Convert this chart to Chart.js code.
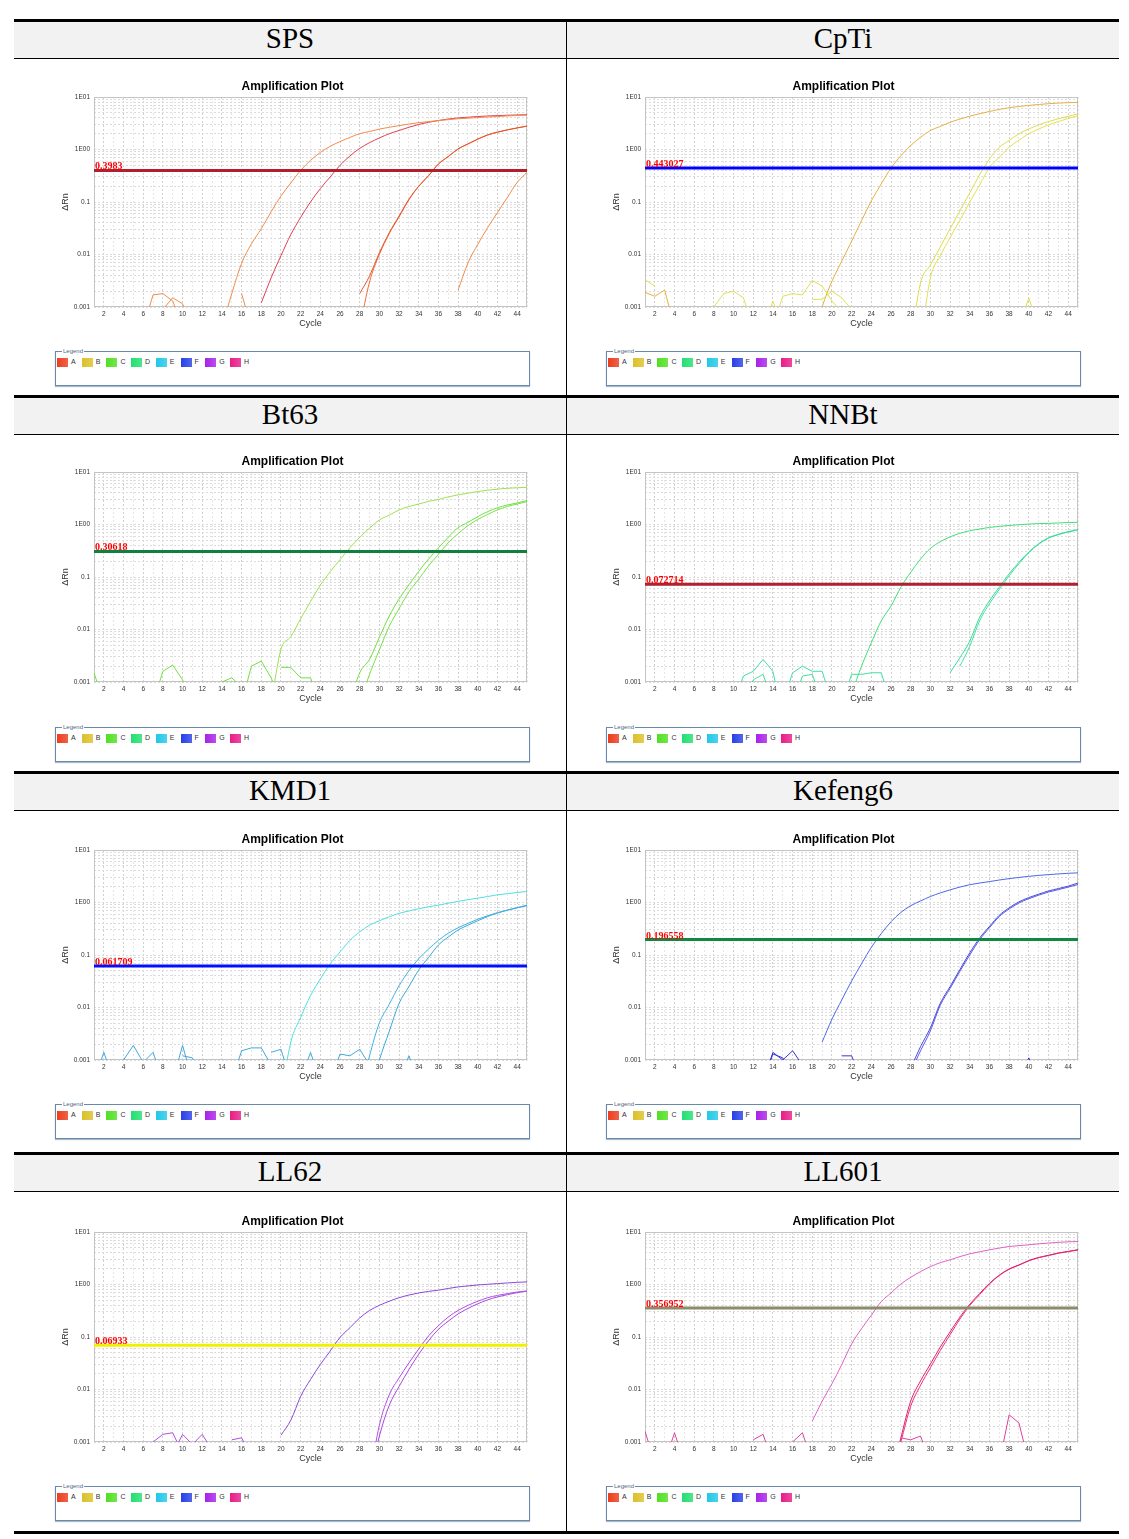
<!DOCTYPE html>
<html>
<head>
<meta charset="utf-8">
<script src="https://cdn.jsdelivr.net/npm/chart.js@4.4.1/dist/chart.umd.min.js"></script>
<style>
  body { margin: 0; background: #fff; width: 1129px; height: 1539px; position: relative; overflow: hidden; font-family: "Liberation Sans", Arial, sans-serif; }
  .thick { position: absolute; left: 14px; width: 1105px; height: 3px; background: #000; }
  .thin { position: absolute; left: 14px; width: 1105px; height: 1px; background: #000; }
  .head { position: absolute; left: 14px; width: 1105px; height: 36px; background: #f2f2f2; }
  .head span { position: absolute; top: 0; width: 552px; line-height: 36px; text-align: center; font: 29px "Liberation Serif", serif; color: #000; }
  .vline { position: absolute; left: 566px; top: 22px; width: 1px; height: 1509px; background: #000; }
  canvas { position: absolute; }
  .legend { position: absolute; width: 473px; height: 33px; border: 1px solid #6a88a8; box-shadow: 0 1px 1px #aabbcc; }
  .legend .cap { position: absolute; left: 6px; top: -4px; font-size: 6px; line-height: 7px; color: #50687f; background: #fff; padding: 0 1px; }
  .legend .sw { position: absolute; top: 6px; width: 11px; height: 9px; }
  .legend .lb { position: absolute; top: 5px; font-size: 7px; line-height: 10px; color: #333; }
</style>
</head>
<body>
<script>
// ---- data -------------------------------------------------------------
const cycles = [1,2,3,4,5,6,7,8,9,10,11,12,13,14,15,16,17,18,19,20,21,22,23,24,25,26,27,28,29,30,31,32,33,34,35,36,37,38,39,40,41,42,43,44,45];
const xTickLabels = [2,4,6,8,10,12,14,16,18,20,22,24,26,28,30,32,34,36,38,40,42,44];
const yGridValues = [0.001,0.002,0.003,0.004,0.005,0.006,0.007,0.008,0.009,
                     0.01,0.02,0.03,0.04,0.05,0.06,0.07,0.08,0.09,
                     0.1,0.2,0.3,0.4,0.5,0.6,0.7,0.8,0.9,
                     1,2,3,4,5,6,7,8,9,10];
const yTickValues = [0.001, 0.01, 0.1, 1, 10];
const yTickLabels = ['0.001', '0.01', '0.1', '1E00', '1E01'];

const panelNames = ['SPS', 'CpTi', 'Bt63', 'NNBt', 'KMD1', 'Kefeng6', 'LL62', 'LL601'];
const thresholds = [0.3983, 0.443027, 0.30618, 0.072714, 0.061709, 0.196558, 0.06933, 0.356952];
const thresholdLabels = ['0.3983', '0.443027', '0.30618', '0.072714', '0.061709', '0.196558', '0.06933', '0.356952'];
const legendKeys = ['A', 'B', 'C', 'D', 'E', 'F', 'G', 'H'];

// SPS (values from the first cycle given next to each array)
const spsA1 = [0.0004,0.0018,0.0068,0.016,0.031,0.065,0.13,0.23,0.40,0.62,0.88,1.15,1.42,1.70,2.0,2.2,2.45,2.65,2.85,3.05,3.25,3.4,3.55,3.7,3.85,3.95,4.05,4.15,4.25,4.35,4.45,4.5]; // from 14
const spsA2 = [0.0012,0.0036,0.0095,0.024,0.051,0.10,0.18,0.30,0.50,0.75,1.05,1.35,1.66,2.0,2.3,2.65,3.0,3.3,3.57,3.8,4.0,4.12,4.25,4.35,4.42,4.5,4.55,4.6]; // from 18
const spsA3 = [0.0018,0.0039,0.0108,0.026,0.054,0.113,0.2,0.316,0.53,0.73,1.03,1.28,1.58,1.9,2.15,2.37,2.58,2.8]; // from 28
const spsA4 = [0.0004,0.0030,0.0100,0.025,0.052,0.11,0.2,0.32,0.53,0.74,1.02,1.27,1.57,1.88,2.13,2.36,2.57,2.78]; // from 28
const spsA5 = [0.0021,0.0069,0.0156,0.0325,0.063,0.122,0.236,0.367]; // from 38
const spsN1 = [0.0004,0.0017,0.0018,0.0013,0.0004]; // from 6
const spsN2 = [0.0009,0.0015,0.00115,0.0004]; // from 8
const spsN3 = [0.0018,0.0004]; // from 16

// CpTi
const cptiB1 = [0.0002,0.001,0.0031,0.0075,0.018,0.044,0.105,0.22,0.445,0.76,1.19,1.71,2.3,2.75,3.3,3.8,4.3,4.8,5.3,5.8,6.25,6.6,6.9,7.2,7.45,7.65,7.8,7.9]; // from 18
const cptiB2 = [0.0002,0.0029,0.0063,0.0139,0.031,0.068,0.149,0.33,0.66,1.1,1.48,2.0,2.45,2.95,3.4,3.85,4.27,4.8]; // from 28
const cptiB3 = [0.0002,0.0036,0.0094,0.021,0.045,0.10,0.21,0.45,0.71,1.1,1.5,2.0,2.45,2.95,3.4,3.9,4.4]; // from 29
const cptiN1 = [0.0019,0.0016,0.0021,0.0004]; // from 1
const cptiN2 = [0.0033,0.0025]; // from 1
const cptiN3 = [0.001,0.0018,0.0020,0.0015,0.0004]; // from 8
const cptiN4 = [0.0004,0.0013,0.0004]; // from 13
const cptiN5 = [0.0004,0.0016,0.0018,0.0017,0.0032,0.0025,0.0013,0.0008,0.0004]; // from 14
const cptiN6 = [0.0014,0.0014,0.0020,0.0015,0.0009]; // from 18
const cptiN7 = [0.0004,0.0015,0.0004]; // from 39

// Bt63
const bt63C1 = [0.0004,0.0042,0.0073,0.016,0.034,0.07,0.126,0.214,0.36,0.57,0.85,1.22,1.51,1.89,2.2,2.46,2.75,3.0,3.35,3.67,3.95,4.25,4.5,4.72,4.9,5.0,5.1]; // from 19
const bt63C2 = [0.0004,0.0015,0.0027,0.0071,0.018,0.038,0.071,0.128,0.22,0.36,0.57,0.87,1.1,1.41,1.76,2.09,2.35,2.57,2.86]; // from 27
const bt63C3 = [0.0004,0.0014,0.0041,0.0115,0.025,0.052,0.091,0.163,0.27,0.45,0.67,0.95,1.25,1.55,1.9,2.2,2.45,2.73]; // from 28
const bt63N1 = [0.0015,0.0004]; // from 1
const bt63N2 = [0.0004,0.0016,0.0021,0.0011,0.0004]; // from 7
const bt63N3 = [0.001,0.0012,0.0008,0.0004]; // from 14
const bt63N4 = [0.0004,0.002,0.0025,0.0012,0.0004]; // from 16
const bt63N5 = [0.0019,0.0019,0.0012,0.0012,0.0004]; // from 20

// NNBt
const nnbtD1 = [0.0006,0.002,0.0056,0.0146,0.028,0.064,0.123,0.22,0.35,0.47,0.58,0.68,0.76,0.82,0.88,0.92,0.96,0.99,1.02,1.04,1.05,1.07,1.09,1.1]; // from 22
const nnbtD2 = [0.0015,0.0029,0.006,0.017,0.035,0.064,0.115,0.19,0.30,0.43,0.56,0.65,0.73,0.8]; // from 32
const nnbtD3 = [0.002,0.0048,0.0146,0.031,0.058,0.105,0.18,0.29,0.42,0.55,0.64,0.72,0.79]; // from 33
const nnbtN1 = [0.0004,0.0013,0.0016,0.0027,0.0016,0.0002]; // from 10
const nnbtN2 = [0.0004,0.0011,0.0014,0.0004]; // from 11
const nnbtN3 = [0.0004,0.0015,0.002,0.0016,0.0016,0.0004]; // from 15
const nnbtN4 = [0.0004,0.0013,0.0014,0.0004]; // from 16
const nnbtN5 = [0.0004,0.0014,0.0014,0.0015,0.0015,0.0004]; // from 21

// KMD1
const kmdE1 = [0.0002,0.0022,0.0065,0.0168,0.035,0.068,0.114,0.19,0.275,0.37,0.45,0.535,0.62,0.69,0.76,0.83,0.89,0.97,1.05,1.13,1.21,1.3,1.4,1.47,1.55,1.62]; // from 20
const kmdE2 = [0.0002,0.0012,0.0051,0.0115,0.026,0.05,0.085,0.13,0.19,0.26,0.33,0.4,0.48,0.56,0.64,0.72,0.8,0.89]; // from 28
const kmdE3 = [0.0002,0.001,0.0035,0.012,0.025,0.052,0.09,0.155,0.22,0.3,0.37,0.45,0.54,0.63,0.71,0.79,0.87]; // from 29
const kmdN1 = [0.0004,0.0014,0.0004]; // from 1
const kmdN2 = [0.0010,0.0019,0.0009,0.0014,0.0004]; // from 4
const kmdN3 = [0.0004,0.0019,0.0004]; // from 9
const kmdN4 = [0.0012,0.0011,0.0004]; // from 10
const kmdN5 = [0.0004,0.0015,0.0017,0.0017,0.0008]; // from 15
const kmdN6 = [0.0014,0.0016,0.0004]; // from 19
const kmdN7 = [0.0004,0.0014,0.0004]; // from 22
const kmdN8 = [0.0004,0.0013,0.0012,0.0016,0.0008]; // from 25
const kmdN9 = [0.0004,0.0012,0.0004]; // from 32

// Kefeng6
const kfF1 = [0.0022,0.006,0.014,0.032,0.068,0.14,0.255,0.43,0.645,0.87,1.07,1.3,1.52,1.74,1.97,2.18,2.35,2.5,2.68,2.85,3.0,3.15,3.28,3.4,3.5,3.6,3.67]; // from 19
const kfF2 = [0.0007,0.0018,0.0041,0.012,0.025,0.053,0.11,0.21,0.35,0.57,0.79,1.03,1.24,1.44,1.66,1.84,2.05,2.35]; // from 28
const kfF3 = [0.0006,0.0015,0.0036,0.011,0.023,0.049,0.1,0.195,0.33,0.54,0.75,0.98,1.18,1.38,1.58,1.76,1.96,2.2]; // from 28
const kfN1 = [0.0004,0.0014,0.0010,0.0015,0.0008,0.0004]; // from 13
const kfN2 = [0.0004,0.0013,0.0011,0.0004]; // from 13
const kfN3 = [0.0012,0.0012,0.0004]; // from 21
const kfN4 = [0.0004,0.0011,0.0004]; // from 39

// LL62
const llG1 = [0.00135,0.0026,0.0074,0.0155,0.03,0.054,0.098,0.15,0.23,0.32,0.4,0.48,0.56,0.63,0.69,0.74,0.78,0.84,0.9,0.94,0.98,1.01,1.04,1.07,1.1,1.12]; // from 20
const llG2 = [0.0002,0.0021,0.0079,0.0166,0.032,0.059,0.105,0.164,0.24,0.32,0.40,0.48,0.56,0.62,0.67,0.72,0.75]; // from 29
const llG3 = [0.0002,0.0013,0.005,0.0114,0.024,0.047,0.085,0.14,0.2,0.275,0.35,0.43,0.51,0.58,0.64,0.7,0.75]; // from 29
const llGN1 = [0.001,0.0014,0.0015,0.0006]; // from 7
const llGN2 = [0.0006,0.0014,0.0009,0.0014,0.0007]; // from 9
const llGN3 = [0.0011,0.0012,0.0005]; // from 15

// LL601
const llH1 = [0.0025,0.006,0.0129,0.03,0.074,0.144,0.26,0.47,0.69,1.02,1.37,1.76,2.19,2.6,2.95,3.4,3.84,4.2,4.57,4.95,5.3,5.5,5.7,5.95,6.16,6.35,6.5,6.6]; // from 18
const llH2 = [0.0002,0.0012,0.006,0.0146,0.0305,0.064,0.125,0.24,0.42,0.67,1.05,1.51,1.98,2.36,2.86,3.27,3.6,3.98,4.27,4.6]; // from 26
const llH3 = [0.0002,0.001,0.0048,0.012,0.026,0.055,0.11,0.22,0.4,0.64,1.02,1.48,1.95,2.33,2.82,3.23,3.56,3.94,4.23,4.55]; // from 26
const llHN1 = [0.0016,0.0004]; // from 1
const llHN2 = [0.0004,0.0015,0.0004]; // from 3
const llHN3 = [0.0011,0.0014,0.0004]; // from 12
const llHN4 = [0.0010,0.0015,0.0004]; // from 16
const llHN5 = [0.0012,0.0011,0.0013,0.0004]; // from 27
const llHN6 = [0.0004,0.0033,0.0023,0.0004]; // from 37

// ---- panels: [first cycle, values, colour] -----------------------------
// "noise" = baseline wells drawn as straight segments, "curves" = amplification curves (smoothed)
const panels = [
  { thrColor: '#b41e2c',
    noise: [[6, spsN1, '#f08c4a'], [8, spsN2, '#f08c4a'], [16, spsN3, '#f08c4a']],
    curves: [[14, spsA1, '#f08c4a'], [18, spsA2, '#dc4050'], [28, spsA3, '#e4542c'], [28, spsA4, '#ee6e3a'], [38, spsA5, '#f08c4a']] },
  { thrColor: '#0000ff',
    noise: [[1, cptiN1, '#e6b040'], [1, cptiN2, '#e0e050'], [8, cptiN3, '#e0e050'], [13, cptiN4, '#e0e050'], [14, cptiN5, '#e0e050'], [18, cptiN6, '#e0e050'], [39, cptiN7, '#e0e050']],
    curves: [[18, cptiB1, '#e6b040'], [28, cptiB2, '#dede48'], [29, cptiB3, '#e4e050']] },
  { thrColor: '#108040',
    noise: [[1, bt63N1, '#70e040'], [7, bt63N2, '#70e040'], [14, bt63N3, '#70e040'], [16, bt63N4, '#70e040'], [20, bt63N5, '#70e040']],
    curves: [[19, bt63C1, '#a0e050'], [27, bt63C2, '#6ee040'], [28, bt63C3, '#78e048']] },
  { thrColor: '#b02030',
    noise: [[10, nnbtN1, '#40e0a0'], [11, nnbtN2, '#40e0a0'], [15, nnbtN3, '#40e0a0'], [16, nnbtN4, '#40e0a0'], [21, nnbtN5, '#40e0a0']],
    curves: [[22, nnbtD1, '#40e078'], [32, nnbtD2, '#38dc98'], [33, nnbtD3, '#40e0a0']] },
  { thrColor: '#0010ff',
    noise: [[1, kmdN1, '#40a8e0'], [4, kmdN2, '#40a8e0'], [9, kmdN3, '#40a8e0'], [10, kmdN4, '#40a8e0'], [15, kmdN5, '#40a8e0'], [19, kmdN6, '#40a8e0'], [22, kmdN7, '#40a8e0'], [25, kmdN8, '#40a8e0'], [32, kmdN9, '#40a8e0']],
    curves: [[20, kmdE1, '#50e0e0'], [28, kmdE2, '#40b0e0'], [29, kmdE3, '#38a8d8']] },
  { thrColor: '#108840',
    noise: [[13, kfN1, '#3838d0'], [13, kfN2, '#3838d0'], [21, kfN3, '#3838d0'], [39, kfN4, '#3838d0']],
    curves: [[19, kfF1, '#4a68e6'], [28, kfF2, '#4a4ae0'], [28, kfF3, '#5858e6']] },
  { thrColor: '#f0f000',
    noise: [[7, llGN1, '#b050e0'], [9, llGN2, '#b050e0'], [15, llGN3, '#b050e0']],
    curves: [[20, llG1, '#8848d8'], [29, llG2, '#b050e8'], [29, llG3, '#a848e0']] },
  { thrColor: '#8c8c6c',
    noise: [[1, llHN1, '#e040a0'], [3, llHN2, '#e040a0'], [12, llHN3, '#e040a0'], [16, llHN4, '#e040a0'], [27, llHN5, '#e040a0'], [37, llHN6, '#e040a0']],
    curves: [[18, llH1, '#e060c8'], [26, llH2, '#e0206a'], [26, llH3, '#e83080']] }
];

const legendColors = ['#ec3c1c', '#dcc028', '#50e020', '#20e070', '#20c8e8', '#2840e8', '#a820e8', '#e81c88'];

// ---- layout -----------------------------------------------------------
const rowTops = [19, 395, 771, 1152];
const plotTops = [97, 472, 850, 1232];
const legendTops = [351, 727, 1104, 1486];
const colCanvasLeft = [50, 601];
const colLegendLeft = [55, 606];
const FONT = '"Liberation Sans", Arial, sans-serif';

function addDiv(cls, top, extra) {
  const d = document.createElement('div');
  d.className = cls;
  d.style.top = top + 'px';
  if (extra) extra(d);
  document.body.appendChild(d);
  return d;
}

rowTops.forEach((top, r) => {
  addDiv('thick', top);
  addDiv('head', top + 3, (d) => {
    [0, 1].forEach((c) => {
      const s = document.createElement('span');
      s.style.left = (c * 553) + 'px';
      s.textContent = panelNames[r * 2 + c];
      d.appendChild(s);
    });
  });
  addDiv('thin', top + 39);
});
addDiv('thick', 1531);
addDiv('vline', 22);

const toPoints = (start, vals) => vals.map((v, i) => ({ x: cycles[start - 1 + i], y: v }));

// plot title centred on the canvas, like the instrument export
const plotTitle = {
  id: 'plotTitle',
  afterDraw(chart) {
    const { ctx } = chart;
    ctx.save();
    ctx.font = 'bold 12px ' + FONT;
    ctx.fillStyle = '#000';
    ctx.textAlign = 'center';
    ctx.textBaseline = 'middle';
    ctx.fillText('Amplification Plot', chart.width / 2, 10);
    ctx.restore();
  }
};

const thresholdLabel = {
  id: 'thresholdLabel',
  afterDatasetsDraw(chart, args, opts) {
    const { ctx, chartArea, scales } = chart;
    const y = scales.y.getPixelForValue(opts.value);
    ctx.save();
    ctx.font = 'bold 10px "Liberation Serif", serif';
    ctx.fillStyle = '#ff0000';
    ctx.textBaseline = 'alphabetic';
    ctx.fillText(opts.text, chartArea.left + 1, y - 1);
    ctx.restore();
  }
};

const plotFrame = {
  id: 'plotFrame',
  beforeDatasetsDraw(chart) {
    const { ctx, chartArea } = chart;
    ctx.save();
    ctx.strokeStyle = '#c4c4c4';
    ctx.lineWidth = 1;
    ctx.strokeRect(chartArea.left + 0.5, chartArea.top + 0.5, chartArea.width - 1, chartArea.height - 1);
    ctx.restore();
  }
};

panels.forEach((p, i) => {
  const r = Math.floor(i / 2), c = i % 2;
  const cv = document.createElement('canvas');
  cv.width = 485; cv.height = 254;
  cv.style.left = colCanvasLeft[c] + 'px';
  cv.style.top = (plotTops[r] - 20) + 'px';
  document.body.appendChild(cv);

  const datasets = [{
    data: [{ x: cycles[0], y: thresholds[i] }, { x: cycles[cycles.length - 1], y: thresholds[i] }],
    borderColor: p.thrColor, borderWidth: 3, pointRadius: 0, order: -1
  }];
  p.noise.forEach(([start, vals, color]) => {
    datasets.push({ data: toPoints(start, vals), borderColor: color, borderWidth: 1, pointRadius: 0, tension: 0 });
  });
  p.curves.forEach(([start, vals, color]) => {
    datasets.push({ data: toPoints(start, vals), borderColor: color, borderWidth: 1, pointRadius: 0, cubicInterpolationMode: 'monotone' });
  });

  new Chart(cv, {
    type: 'line',
    data: { datasets },
    options: {
      responsive: false,
      animation: false,
      events: [],
      layout: { padding: { left: 0, right: 8, top: 20, bottom: 0 } },
      plugins: {
        legend: { display: false },
        tooltip: { enabled: false },
        thresholdLabel: { value: thresholds[i], text: thresholdLabels[i] }
      },
      scales: {
        x: {
          type: 'linear', min: 1, max: 45,
          afterBuildTicks: (s) => { s.ticks = cycles.map((v) => ({ value: v })); },
          afterFit: (s) => { s.height = 24; },
          ticks: {
            autoSkip: false, maxRotation: 0, padding: 3, color: '#333',
            font: { family: FONT, size: 6.5 },
            callback: (v) => (xTickLabels.includes(v) ? String(v) : '')
          },
          grid: { color: (ctx) => (xTickLabels.includes(ctx.tick.value) ? '#d0d0d0' : '#e6e6e6'), drawTicks: false },
          border: { display: false, dash: [2, 2] },
          title: { display: true, text: 'Cycle', color: '#333', font: { family: FONT, size: 9 }, padding: { top: 0, bottom: 2 } }
        },
        y: {
          type: 'logarithmic', min: 0.001, max: 10,
          afterBuildTicks: (s) => { s.ticks = yGridValues.map((v) => ({ value: v })); },
          afterFit: (s) => { s.width = 44; },
          ticks: {
            autoSkip: false, padding: 4, color: '#333',
            font: { family: FONT, size: 6.5 },
            callback: (v) => { const k = yTickValues.indexOf(v); return k >= 0 ? yTickLabels[k] : ''; }
          },
          grid: { color: '#dcdcdc', drawTicks: false },
          border: { display: false, dash: [2, 2] },
          title: { display: true, text: 'ΔRn', color: '#333', font: { family: FONT, size: 9 }, padding: { top: 10, bottom: 0 } }
        }
      }
    },
    plugins: [plotTitle, thresholdLabel, plotFrame]
  });

  // static legend box under each plot
  addDiv('legend', legendTops[r], (d) => {
    d.style.left = colLegendLeft[c] + 'px';
    const cap = document.createElement('div');
    cap.className = 'cap';
    cap.textContent = 'Legend';
    d.appendChild(cap);
    legendKeys.forEach((k, j) => {
      const sw = document.createElement('div');
      sw.className = 'sw';
      sw.style.left = (1 + j * 24.7) + 'px';
      sw.style.background = 'linear-gradient(to right, ' + legendColors[j] + ', ' + legendColors[j] + 'cc)';
      d.appendChild(sw);
      const lb = document.createElement('div');
      lb.className = 'lb';
      lb.style.left = (15 + j * 24.7) + 'px';
      lb.textContent = k;
      d.appendChild(lb);
    });
  });
});
</script>
</body>
</html>
